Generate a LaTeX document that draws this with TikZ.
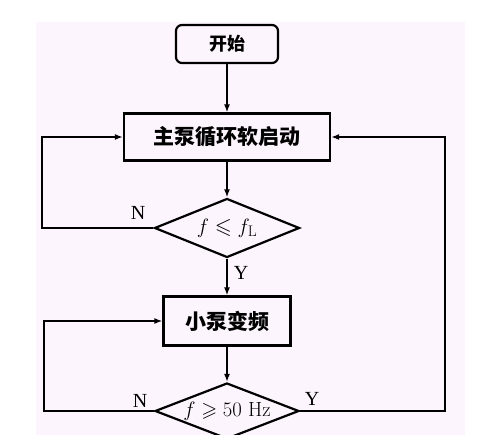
\documentclass[tikz,border=0pt]{standalone}
\usepackage{amssymb}
\usepackage{fontspec}
\newfontfamily\cjk{Noto Sans CJK SC}
\newfontfamily\lblfont{Liberation Serif}
\usetikzlibrary{shapes.geometric,arrows.meta}
\definecolor{bgtint}{RGB}{253,245,253}
\tikzset{
  box/.style={draw, line width=2.2pt, rectangle, inner sep=0pt},
  decision/.style={draw, line width=2.2pt, diamond, inner sep=0pt},
  cond/.style={inner sep=0pt, font=\fontsize{22}{26}\selectfont},
  conn/.style={line width=1.8pt, -{Latex[length=8pt,width=6pt]}},
  lbl/.style={font=\lblfont\fontsize{20}{22}\selectfont, inner sep=0pt}
}
\begin{document}
\begin{tikzpicture}[x=1pt,y=-1pt]
\useasboundingbox (0,0) rectangle (490,435);
\clip (0,0) rectangle (490,435);
\fill[bgtint] (36,22) rectangle (465,435);
\node[box, rounded corners=6pt, minimum width=102pt, minimum height=38pt, font=\cjk\bfseries\fontsize{18}{20}\selectfont] (start) at (227,44) {开始};
\node[box, minimum width=206pt, minimum height=47pt, font=\cjk\bfseries\fontsize{21}{24}\selectfont] (main) at (227,137) {主泵循环软启动};
\node[decision, minimum width=145pt, minimum height=59pt] (d1) at (227,228) {};
\node[cond] (t1) at (d1.center) {$f\leqslant f_{\mathrm{L}}$};
\node[box, minimum width=127pt, minimum height=49pt, font=\cjk\bfseries\fontsize{21}{24}\selectfont] (small) at (227,321) {小泵变频};
\node[decision, minimum width=144pt, minimum height=56pt] (d2) at (227,411) {};
\node[cond, font=\fontsize{20.5}{24}\selectfont] (t2) at (d2.center) {$f\geqslant 50\ \mathrm{Hz}$};
\coordinate (l1) at (42,228);
\coordinate (l1t) at (42,137);
\coordinate (l2) at (44,411);
\coordinate (l2t) at (44,321);
\coordinate (r2) at (445,411);
\coordinate (r2t) at (445,137);
\draw[conn] (start.south) -- (main.north);
\draw[conn] (main.south) -- (d1.north);
\draw[conn] (d1.west) -- (l1) -- (l1t) -- (main.west);
\draw[conn] (d1.south) -- (small.north);
\draw[conn] (small.south) -- (d2.north);
\draw[conn] (d2.west) -- (l2) -- (l2t) -- (small.west);
\draw[conn] (d2.east) -- (r2) -- (r2t) -- (main.east);
\node[lbl] (n1) at (138,213) {N};
\node[lbl] (y1) at (241,273) {Y};
\node[lbl] (n2) at (140,401) {N};
\node[lbl] (y2) at (312,399) {Y};
\end{tikzpicture}
\end{document}
